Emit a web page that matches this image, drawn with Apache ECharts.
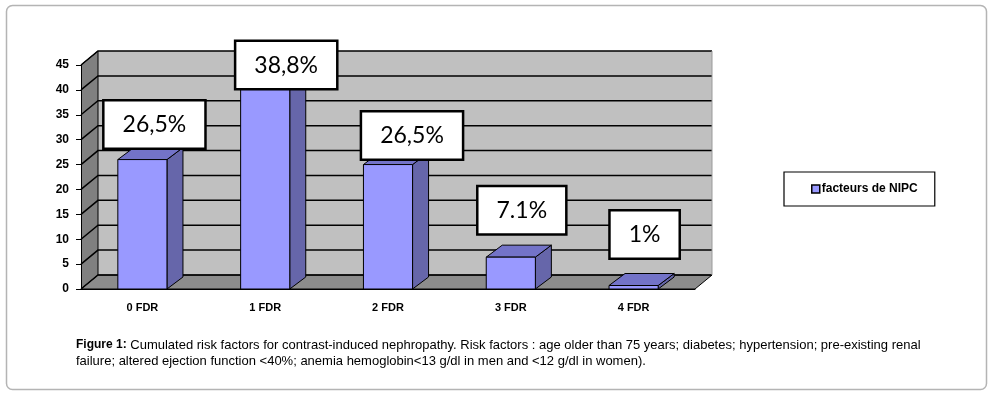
<!doctype html>
<html>
<head>
<meta charset="utf-8">
<title>facteurs de NIPC</title>
<style>
  html, body { margin: 0; padding: 0; background: #fff; }
  #main { width: 1003px; height: 394px; }
</style>
</head>
<body>
<div id="main"></div>
<script src="https://cdn.jsdelivr.net/npm/echarts@6/dist/echarts.min.js"></script>
<script>
// data
var categories = ['0 FDR', '1 FDR', '2 FDR', '3 FDR', '4 FDR'];
var values = [26, 41, 25, 6.4, 0.7];
var valueLabels = ['26,5%', '38,8%', '26,5%', '7.1%', '1%'];
var seriesName = 'facteurs de NIPC';
var yMax = 45;
var yStep = 5;

// look & layout
var DX = 17, DY = -14;      // depth of the walls
var BDX = 16, BDY = -12;    // depth of each bar
// label box nudges: [shift right from category centre, lift above bar top]
var labelNudge = [[12, 12], [21, -3], [24, 6], [11, 24], [11, 28]];

var chart = echarts.init(document.getElementById('main'));

function wallsItem(params, api) {
  var bw = api.size([1, 0])[0];
  var x0 = api.coord([0, 0])[0] - bw / 2;
  var x1 = api.coord([categories.length - 1, 0])[0] + bw / 2;
  var yb = api.coord([0, 0])[1];
  var yt = api.coord([0, yMax])[1];
  var kids = [];
  kids.push({ type: 'polygon', shape: { points: [[x0 + DX, yt + DY], [x1 + DX, yt + DY], [x1 + DX, yb + DY], [x0 + DX, yb + DY]] },
    style: { fill: '#c0c0c0', stroke: null } });
  kids.push({ type: 'polygon', shape: { points: [[x0, yb], [x0, yt], [x0 + DX, yt + DY], [x0 + DX, yb + DY]] },
    style: { fill: '#808080', stroke: null } });
  kids.push({ type: 'polygon', shape: { points: [[x0, yb], [x1, yb], [x1 + DX, yb + DY], [x0 + DX, yb + DY]] },
    style: { fill: '#8c8c8c', stroke: '#000', lineWidth: 1 } });
  for (var v = 0; v <= yMax; v += yStep) {
    var y = api.coord([0, v])[1];
    kids.push({ type: 'polyline', shape: { points: [[x0, y], [x0 + DX, y + DY], [x1 + DX, y + DY]] },
      style: { stroke: '#000', lineWidth: 1.5, fill: null } });
  }
  kids.push({ type: 'line', shape: { x1: x0 + DX, y1: yt + DY, x2: x0 + DX, y2: yb + DY },
    style: { stroke: '#000', lineWidth: 1 } });
  kids.push({ type: 'line', shape: { x1: x0, y1: yt, x2: x0 + DX, y2: yt + DY },
    style: { stroke: '#000', lineWidth: 1 } });
  kids.push({ type: 'line', shape: { x1: x1 + DX, y1: yt + DY, x2: x1 + DX, y2: yb + DY },
    style: { stroke: '#9a9a9a', lineWidth: 1 } });
  return { type: 'group', children: kids };
}

function barItem(params, api) {
  var i = api.value(0);
  var top = api.coord([i, api.value(1)]);
  var base = api.coord([i, 0]);
  var bw = api.size([1, 0])[0] * 0.4;
  var l = top[0] - bw / 2, r = top[0] + bw / 2;
  var t = top[1], b = base[1];
  var line = { stroke: '#000', lineWidth: 1 };
  var nudge = labelNudge[i];
  return {
    type: 'group',
    children: [
      { type: 'polygon', shape: { points: [[r, b], [r, t], [r + BDX, t + BDY], [r + BDX, b + BDY]] },
        style: Object.assign({ fill: '#6666aa' }, line) },
      { type: 'polygon', shape: { points: [[l, t], [r, t], [r + BDX, t + BDY], [l + BDX, t + BDY]] },
        style: Object.assign({ fill: '#7373c8' }, line) },
      { type: 'rect', shape: { x: l, y: t, width: bw, height: b - t },
        style: Object.assign({ fill: '#9999ff' }, line) },
      { type: 'text', z2: 50,
        style: {
          x: top[0] + nudge[0], y: t - nudge[1],
          text: valueLabels[i],
          fill: '#000', font: '23px Lato, "Open Sans", sans-serif',
          align: 'center', verticalAlign: 'bottom',
          backgroundColor: '#fff', borderColor: '#000', borderWidth: 2.5,
          padding: [12, 18, 11, 18]
        } }
    ]
  };
}

chart.setOption({
  animation: false,
  grid: { left: 81, right: 308, top: 65, bottom: 105 },
  legend: {
    left: 784, top: 172,
    padding: [11, 17, 11, 27],
    borderColor: '#000', borderWidth: 1.2, borderRadius: 0,
    icon: 'rect', itemWidth: 8, itemHeight: 8,
    itemStyle: { borderColor: '#000', borderWidth: 1.5 },
    textStyle: { fontFamily: 'Liberation Sans, Arial, sans-serif', fontWeight: 'bold', fontSize: 12, color: '#000', padding: [0, 0, 0, -3] },
    data: [seriesName]
  },
  xAxis: {
    type: 'category', data: categories,
    axisLine: { lineStyle: { color: '#000', width: 1 } },
    axisTick: { length: 5, lineStyle: { color: '#000' } },
    axisLabel: { margin: 13, color: '#000', fontWeight: 'bold', fontSize: 11, fontFamily: 'Liberation Sans, Arial, sans-serif' },
    z: 10
  },
  yAxis: {
    type: 'value', min: 0, max: yMax, interval: yStep,
    splitLine: { show: false },
    axisLine: { show: true, lineStyle: { color: '#000', width: 1 } },
    axisTick: { show: true, length: 5, lineStyle: { color: '#000' } },
    axisLabel: { margin: 12, color: '#000', fontWeight: 'bold', fontSize: 12, fontFamily: 'Liberation Sans, Arial, sans-serif' },
    z: 10
  },
  graphic: [
    { type: 'rect', shape: { x: 6.5, y: 5.5, width: 980, height: 384, r: 6 },
      style: { fill: null, stroke: '#b4b4b4', lineWidth: 1.5 }, z: -10 },
    { type: 'text', left: 76, top: 337,
      style: {
        text: '{b|Figure 1:} Cumulated risk factors for contrast-induced nephropathy. Risk factors : age older than 75 years; diabetes; hypertension; pre-existing renal\nfailure; altered ejection function <40%; anemia hemoglobin<13 g/dl in men and <12 g/dl in women).',
        font: '13px "Liberation Sans Narrow", "Liberation Sans", Arial, sans-serif',
        fill: '#000', lineHeight: 16,
        rich: { b: { fontWeight: 'bold', font: 'bold 13px "Liberation Sans Narrow", "Liberation Sans", Arial, sans-serif' } }
      } }
  ],
  series: [
    { type: 'custom', name: 'walls', silent: true, z: 1,
      renderItem: wallsItem, data: [[0, 0]], legendHoverLink: false },
    { type: 'custom', name: seriesName, z: 5,
      itemStyle: { color: '#9999ff' },
      renderItem: barItem,
      data: values.map(function (v, i) { return [i, v]; }) }
  ]
});
</script>
</body>
</html>
